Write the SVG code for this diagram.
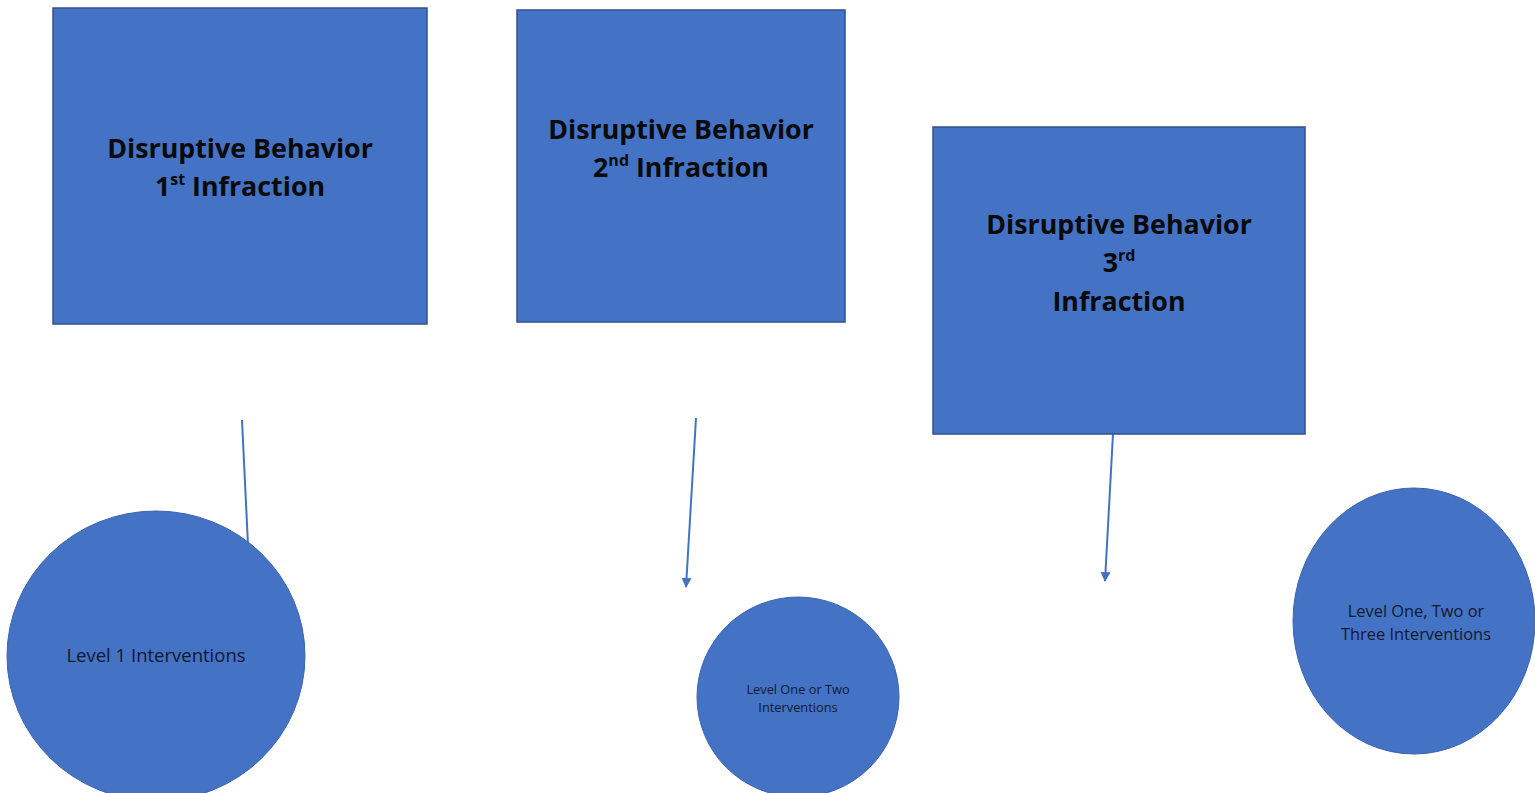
<svg xmlns="http://www.w3.org/2000/svg" width="1535" height="793" viewBox="0 0 1535 793">
<defs>
<style>
.box{fill:#4472C4;stroke:#2F528F;stroke-width:1.5}
.circ{fill:#4472C4;stroke:#3A64B0;stroke-width:1}
.t{font-family:"Open Sans","Liberation Sans",sans-serif;font-weight:bold;font-size:26.8px;fill:#0a0a0a;text-anchor:middle}
.sup{font-size:16px}
.c{font-family:"Open Sans","Liberation Sans",sans-serif;fill:#111a2e;text-anchor:middle}
.conn{stroke:#4472C4;stroke-width:2;fill:none}
</style>
<marker id="arr" viewBox="0 0 10 10" refX="9" refY="5" markerWidth="5" markerHeight="5" orient="auto">
<path d="M0,0 L10,5 L0,10 z" fill="#4472C4"/>
</marker>
</defs>
<rect width="1535" height="793" fill="#ffffff"/>
<g id="connectors">
<line class="conn" x1="242" y1="420" x2="248" y2="545"/>
<line class="conn" x1="696" y1="418" x2="686" y2="587" marker-end="url(#arr)"/>
<line class="conn" x1="1113" y1="434" x2="1105" y2="581" marker-end="url(#arr)"/>
</g>
<g id="box1">
<rect class="box" x="53" y="8" width="374" height="316"/>
<text class="t" x="240" y="158">Disruptive Behavior</text>
<text class="t" x="240" y="196">1<tspan class="sup" dy="-11">st</tspan><tspan dy="11"> Infraction</tspan></text>
</g>
<g id="box2">
<rect class="box" x="517" y="10" width="328" height="312"/>
<text class="t" x="681" y="139">Disruptive Behavior</text>
<text class="t" x="681" y="177">2<tspan class="sup" dy="-11">nd</tspan><tspan dy="11"> Infraction</tspan></text>
</g>
<g id="box3">
<rect class="box" x="933" y="127" width="372" height="307"/>
<text class="t" x="1119" y="234">Disruptive Behavior</text>
<text class="t" x="1119" y="272">3<tspan class="sup" dy="-11">rd</tspan></text>
<text class="t" x="1119" y="311">Infraction</text>
</g>
<g id="circle1">
<ellipse class="circ" cx="156" cy="656" rx="149" ry="145"/>
<text class="c" x="156" y="662" font-size="18.5">Level 1 Interventions</text>
</g>
<g id="circle2">
<ellipse class="circ" cx="798" cy="697" rx="101" ry="100"/>
<text class="c" x="798" y="694" font-size="12.8">Level One or Two</text>
<text class="c" x="798" y="712" font-size="12.8">Interventions</text>
</g>
<g id="circle3">
<ellipse class="circ" cx="1414" cy="621" rx="121" ry="133"/>
<text class="c" x="1416" y="617" font-size="16.4">Level One, Two or</text>
<text class="c" x="1416" y="640" font-size="16.4">Three Interventions</text>
</g>
</svg>
